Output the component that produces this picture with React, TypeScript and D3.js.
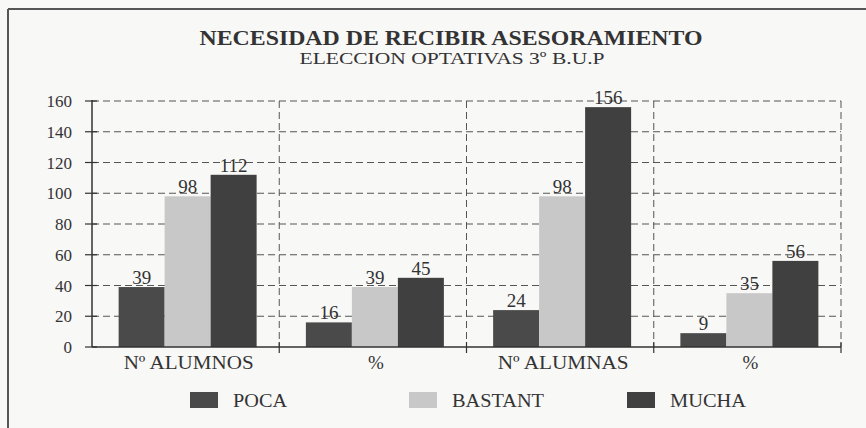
import React from "react";
import * as d3 from "d3";

const categories = ["Nº ALUMNOS", "%", "Nº ALUMNAS", "%"];
const seriesNames = ["POCA", "BASTANT", "MUCHA"];
const poca = [39, 16, 24, 9];
const bastant = [98, 39, 98, 35];
const mucha = [112, 45, 156, 56];
const yTicks = [0, 20, 40, 60, 80, 100, 120, 140, 160];
const seriesColors = ["#4a4a4a", "#c8c8c8", "#404040"];

const W = 866, H = 428;
const M = { left: 92, right: 841, top: 101, bottom: 347 };
const FONT = "'Liberation Serif', 'Times New Roman', serif";
const TXT = "#333";

const catWidths = [130, 0, 131, 0];
const legendX = [190, 409, 627];
const legendWidths = [54, 92, 76];

export default function App() {
  const series = [poca, bastant, mucha];
  const idx = categories.map((_, i) => String(i));
  const x = d3.scaleBand<string>().domain(idx).range([M.left, M.right]).paddingInner(0).paddingOuter(0);
  const y = d3.scaleLinear().domain([0, 160]).range([M.bottom, M.top]);
  const inner = d3.scaleBand<string>().domain(seriesNames).range([0, 138]);
  const bw = x.bandwidth();
  const groupOff = (bw - 138) / 2 + 2;
  const boundaries = d3.range(categories.length + 1).map((i) => M.left + i * bw);

  return (
    <svg width={W} height={H} style={{ position: "absolute", left: 0, top: 0, background: "#f8f8f7" }}>
      <rect x={0} y={0} width={W} height={H} fill="#f8f8f7" />
      <line x1={8} y1={9} x2={W} y2={9} stroke="#555" strokeWidth={2} />
      <line x1={8} y1={9} x2={8} y2={H} stroke="#555" strokeWidth={2} />
      <text x={451} y={45} textAnchor="middle" fontFamily={FONT} fontWeight="bold" fontSize={20} fill={TXT}
        textLength={503} lengthAdjust="spacingAndGlyphs">
        NECESIDAD DE RECIBIR ASESORAMIENTO
      </text>
      <text x={452} y={64} textAnchor="middle" fontFamily={FONT} fontSize={17} fill={TXT}
        textLength={305} lengthAdjust="spacingAndGlyphs">
        ELECCION OPTATIVAS 3º  B.U.P
      </text>
      {/* horizontal grid */}
      {yTicks.filter((t) => t > 0).map((t) => (
        <line key={"h" + t} x1={M.left} x2={M.right} y1={y(t)} y2={y(t)} stroke="#555" strokeWidth={1} strokeDasharray="7,4" />
      ))}
      {/* vertical grid */}
      {boundaries.slice(1).map((bx, i) => (
        <line key={"v" + i} x1={bx} x2={bx} y1={M.top} y2={M.bottom} stroke="#555" strokeWidth={1} strokeDasharray="7,4" />
      ))}
      {/* bars */}
      {series.map((vals, s) =>
        vals.map((v, i) => {
          const bx = (x(String(i)) as number) + groupOff + (inner(seriesNames[s]) as number);
          return (
            <g key={s + "-" + i}>
              <rect x={bx} y={y(v)} width={inner.bandwidth()} height={M.bottom - y(v)} fill={seriesColors[s]} />
              <text x={bx + inner.bandwidth() / 2} y={y(v) - 3} textAnchor="middle" fontFamily={FONT} fontSize={19} fill={TXT}>
                {v}
              </text>
            </g>
          );
        })
      )}
      {/* y axis */}
      <line x1={M.left} x2={M.left} y1={M.top - 1} y2={M.bottom} stroke="#333" strokeWidth={1.5} />
      {yTicks.map((t) => (
        <g key={"t" + t}>
          <line x1={M.left - 7} x2={M.left + 5} y1={y(t)} y2={y(t)} stroke="#333" strokeWidth={1.2} />
          <text x={72} y={y(t) + 6} textAnchor="end" fontFamily={FONT} fontSize={17} fill={TXT}>
            {t}
          </text>
        </g>
      ))}
      {/* x axis */}
      <line x1={M.left} x2={M.right} y1={M.bottom} y2={M.bottom} stroke="#333" strokeWidth={1.5} />
      {boundaries.slice(1).map((bx, i) => (
        <line key={"xt" + i} x1={bx} x2={bx} y1={M.bottom - 5} y2={M.bottom + 6} stroke="#333" strokeWidth={1.2} />
      ))}
      {categories.map((c, i) => (
        <text key={"c" + i} x={(x(String(i)) as number) + bw / 2 + 3} y={369} textAnchor="middle" fontFamily={FONT} fontSize={19} fill={TXT}
          {...(catWidths[i] ? { textLength: catWidths[i], lengthAdjust: "spacingAndGlyphs" } : {})}>
          {c}
        </text>
      ))}
      {/* legend */}
      {seriesNames.map((n, i) => (
        <g key={"l" + n}>
          <rect x={legendX[i]} y={392} width={28} height={16} fill={seriesColors[i]} />
          <text x={legendX[i] + 43} y={407} fontFamily={FONT} fontSize={19} fill={TXT}
            textLength={legendWidths[i]} lengthAdjust="spacingAndGlyphs">
            {n}
          </text>
        </g>
      ))}
    </svg>
  );
}
